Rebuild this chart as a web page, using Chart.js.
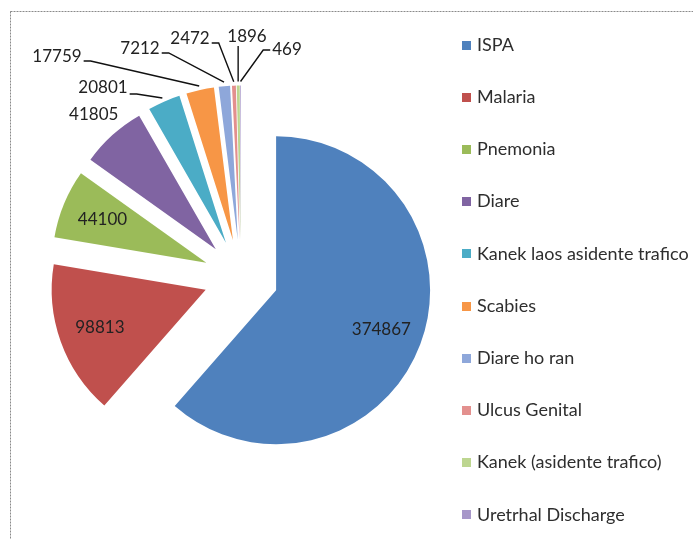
<!DOCTYPE html>
<html>
<head>
<meta charset="utf-8">
<script src="https://cdn.jsdelivr.net/npm/chart.js@4/dist/chart.umd.min.js"></script>
<style>
html,body{margin:0;padding:0;background:#fff;}
#wrap{position:relative;width:693px;height:539px;}
</style>
</head>
<body>
<div id="wrap"><canvas id="c"></canvas></div>
<script>
const categories = ['ISPA', 'Malaria', 'Pnemonia', 'Diare', 'Kanek laos asidente trafico', 'Scabies', 'Diare ho ran', 'Ulcus Genital', 'Kanek (asidente trafico)', 'Uretrhal Discharge'];
const caseCounts = [374867, 98813, 44100, 41805, 20801, 17759, 7212, 2472, 1896, 469];
const sliceColors = ['#4F81BD', '#C0504D', '#9BBB59', '#8064A2', '#4BACC6', '#F79646', '#8EA7DA', '#E3908E', '#BDD690', '#A797C9'];

// border around the chart frame
const framePlugin = {
  id: 'frame',
  beforeDraw(chart, args, opts) {
    const ctx = chart.ctx;
    ctx.save();
    ctx.strokeStyle = opts.color;
    ctx.lineWidth = 1;
    ctx.setLineDash([2, 1]);
    ctx.strokeRect(opts.left + 0.5, opts.top + 0.5, chart.width * 2, chart.height * 2);
    ctx.restore();
  }
};

// move every slice outward along its bisector (exploded pie)
const explodePlugin = {
  id: 'explode',
  afterDatasetsUpdate(chart, args, opts) {
    const ca = chart.chartArea;
    const cx = (ca.left + ca.right) / 2, cy = (ca.top + ca.bottom) / 2;
    chart.getDatasetMeta(0).data.forEach(arc => {
      const mid = (arc.startAngle + arc.endAngle) / 2;
      arc.x = cx + Math.cos(mid) * opts.distance;
      arc.y = cy + Math.sin(mid) * opts.distance;
    });
  }
};

// value labels, inside / outside / with leader lines
const labelPlugin = {
  id: 'sliceLabels',
  afterDatasetsDraw(chart, args, opts) {
    const ctx = chart.ctx;
    const ca = chart.chartArea;
    const cx = (ca.left + ca.right) / 2, cy = (ca.top + ca.bottom) / 2;
    const values = chart.data.datasets[0].data;
    ctx.save();
    ctx.font = opts.font;
    ctx.textAlign = 'center';
    ctx.textBaseline = 'middle';
    chart.getDatasetMeta(0).data.forEach((arc, i) => {
      const p = opts.placement[i];
      const mid = (arc.startAngle + arc.endAngle) / 2;
      const R = arc.outerRadius;
      const text = String(values[i]);
      ctx.fillStyle = opts.color;
      if (p.mode === 'radial') {
        ctx.fillText(text, arc.x + Math.cos(mid) * R * p.r, arc.y + Math.sin(mid) * R * p.r);
        return;
      }
      const tx = cx + p.dx, ty = cy + p.dy;
      ctx.fillText(text, tx, ty);
      const w = ctx.measureText(text).width;
      const ex = arc.x + Math.cos(mid) * (R + opts.leaderGap);
      const ey = arc.y + Math.sin(mid) * (R + opts.leaderGap);
      let sx, sy, bx, by;
      if (p.from === 'right') { sx = tx + w / 2 + 2; sy = ty + p.lift; bx = sx + opts.elbow; by = sy; }
      else if (p.from === 'left') { sx = tx - w / 2 - 2; sy = ty + p.lift; bx = sx - opts.elbow; by = sy; }
      else { sx = ex; sy = ty + 9; bx = sx; by = sy; }
      ctx.strokeStyle = opts.lineColor;
      ctx.lineWidth = 1.4;
      ctx.beginPath();
      ctx.moveTo(sx, sy);
      ctx.lineTo(bx, by);
      ctx.lineTo(ex, ey);
      ctx.stroke();
    });
    ctx.restore();
  }
};

// vertical legend on the right
const sideLegendPlugin = {
  id: 'sideLegend',
  afterDraw(chart, args, opts) {
    const ctx = chart.ctx;
    const labels = chart.data.labels;
    const colors = chart.data.datasets[0].backgroundColor;
    ctx.save();
    ctx.font = opts.font;
    ctx.textAlign = 'left';
    ctx.textBaseline = 'middle';
    labels.forEach((lab, i) => {
      const y = opts.top + i * opts.step;
      ctx.fillStyle = colors[i];
      ctx.fillRect(opts.left, Math.round(y - opts.box / 2), opts.box, opts.box);
      ctx.fillStyle = opts.color;
      ctx.fillText(lab, opts.left + opts.box + opts.gap, y);
    });
    ctx.restore();
  }
};

new Chart(document.getElementById('c'), {
  type: 'pie',
  data: {
    labels: categories,
    datasets: [{
      data: caseCounts,
      backgroundColor: sliceColors,
      borderWidth: 0,
      radius: 154,
      clip: false
    }]
  },
  options: {
    responsive: true,
    maintainAspectRatio: false,
    animation: false,
    events: [],
    layout: { padding: { left: 0, right: 211, top: 15, bottom: 0 } },
    plugins: {
      legend: { display: false },
      tooltip: { enabled: false },
      frame: { left: 10, top: 11, color: '#8a8a8a' },
      explode: { distance: 37.5 },
      sliceLabels: {
        font: '17px Lato',
        color: '#222222',
        lineColor: '#111111',
        leaderGap: 4,
        elbow: 7,
        placement: [
          { mode: 'radial', r: 0.73 },
          { mode: 'radial', r: 0.73 },
          { mode: 'radial', r: 0.73 },
          { mode: 'radial', r: 1.18 },
          { mode: 'leader', dx: -138, dy: -189, from: 'right', lift: 6 },
          { mode: 'leader', dx: -184, dy: -220, from: 'right', lift: 4 },
          { mode: 'leader', dx: -101, dy: -228, from: 'right', lift: 4 },
          { mode: 'leader', dx: -51, dy: -238, from: 'right', lift: 4 },
          { mode: 'leader', dx: 6, dy: -240, from: 'bottom', lift: 0 },
          { mode: 'leader', dx: 46, dy: -227, from: 'left', lift: 0 }
        ]
      },
      sideLegend: { font: '18px Lato', color: '#2e2e2e', left: 462, top: 45, step: 52.2, box: 9, gap: 6 }
    }
  },
  plugins: [framePlugin, explodePlugin, labelPlugin, sideLegendPlugin]
});
</script>
</body>
</html>
